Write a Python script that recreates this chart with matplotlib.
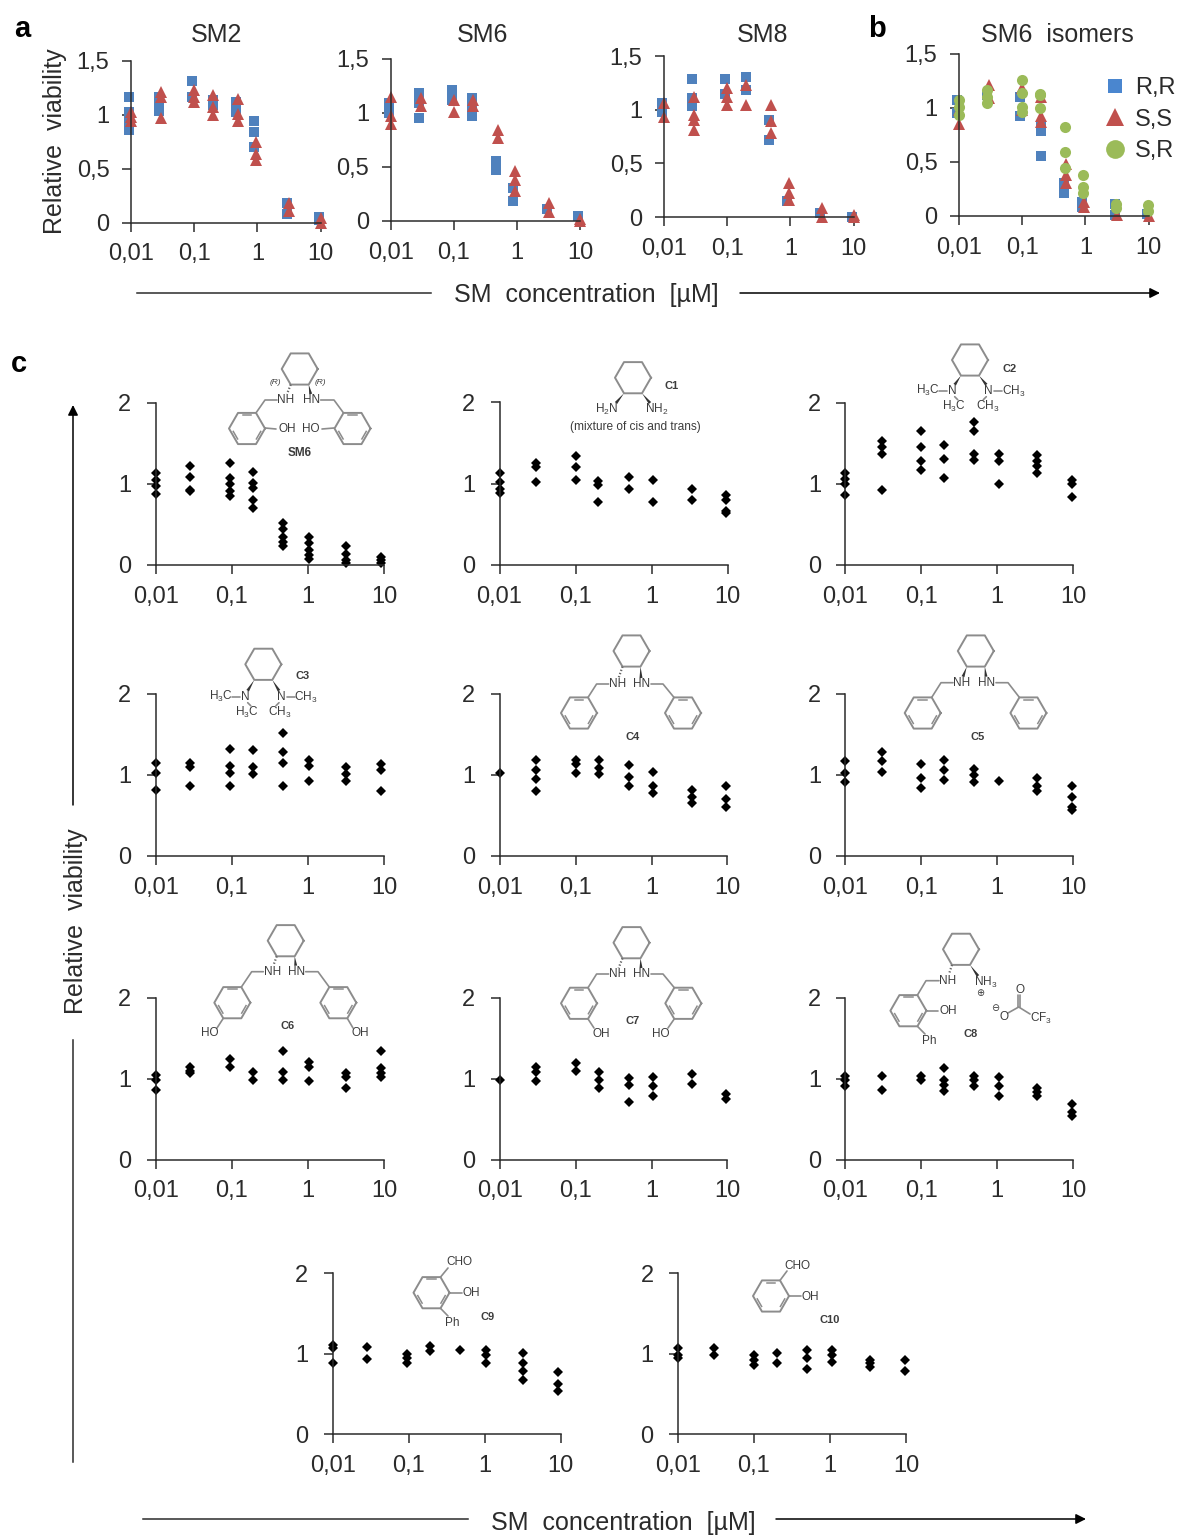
import numpy as np
import matplotlib
matplotlib.use("Agg")
import matplotlib.pyplot as plt
from matplotlib.lines import Line2D
from matplotlib.ticker import NullLocator

plt.rcParams["font.family"] = ["Liberation Sans", "DejaVu Sans"]
plt.rcParams["mathtext.default"] = "regular"

W, H = 1178, 1535
INK = "#2b2b2b"
GRAY = "#8c8c8c"
LAB = "#3c3c3c"
BLUE, RED, GREEN = "#4F81BD", "#C0504D", "#9BBB59"

xticks = [0.01, 0.1, 1, 10]
xticklabels = ["0,01", "0,1", "1", "10"]

# concentrations (slightly different as plotted in the source panels)
conc_red = [0.01, 0.03, 0.1, 0.2, 0.5, 0.95, 3.2, 10]
conc_blue = [0.0093, 0.028, 0.093, 0.195, 0.46, 0.88, 2.97, 9.3]
conc_green = [0.01, 0.028, 0.1, 0.19, 0.47, 0.9, 3.0, 9.7]
conc_a = [0.01, 0.028, 0.095, 0.19, 0.47, 1.03, 3.2, 9.1]
conc_b = [0.01, 0.03, 0.1, 0.2, 0.5, 1.05, 3.4, 9.6]

sm2_blue = [[1.17, 1.03, 0.95, 0.86], [1.17, 1.09, 1.04], [1.31, 1.17], [1.14, 1.09], [1.12, 1.03],
            [0.94, 0.84, 0.70], [0.18, 0.08], [0.05, 0.02]]
sm2_red = [[1.03, 0.98, 0.94], [1.21, 1.17, 0.97], [1.23, 1.17, 1.12], [1.18, 1.07, 1.0], [1.15, 1.01, 0.94],
           [0.75, 0.64, 0.58], [0.18, 0.11], [0.04, 0.0]]
sm6_blue = [[1.09, 1.0], [1.18, 1.09, 0.95], [1.21, 1.12], [1.14, 1.06, 0.97], [0.55, 0.47],
            [0.30, 0.18], [0.11], [0.04]]
sm6_red = [[1.15, 0.97, 0.90], [1.14, 1.06], [1.12, 1.01], [1.12, 1.06], [0.84, 0.77],
           [0.46, 0.38, 0.28], [0.16, 0.08], [0.02, 0.0]]
sm8_blue = [[1.06, 0.98], [1.29, 1.11, 1.03], [1.29, 1.15], [1.30, 1.18], [0.90, 0.72],
            [0.15], [0.04], [0.0]]
sm8_red = [[1.06, 0.93], [1.12, 0.95, 0.90, 0.81], [1.20, 1.12, 1.04], [1.23, 1.04], [1.04, 0.89, 0.78],
           [0.32, 0.22, 0.16], [0.08, 0.0], [0.02, 0.0]]
iso_rr = [[1.07, 0.95], [1.12], [1.10, 0.92], [0.84, 0.78, 0.55], [0.30, 0.21],
          [0.13, 0.08], [0.11, 0.01], [0.02]]
iso_ss = [[0.98, 0.85], [1.21, 1.09], [1.18, 0.98], [1.10, 0.92, 0.87], [0.48, 0.38, 0.30],
          [0.13, 0.08], [0.01], [0.0]]
iso_sr = [[1.07, 1.01, 0.93], [1.16, 1.10, 1.04], [1.26, 1.14, 1.01, 0.96], [1.13, 1.12, 1.0], [0.82, 0.59, 0.44],
          [0.38, 0.27, 0.21], [0.11, 0.07], [0.10, 0.04]]

c_sm6 = [[1.14, 1.05, 0.97, 0.88], [1.22, 1.09, 0.93, 0.91], [1.26, 1.07, 1.0, 0.91, 0.85], [1.15, 1.01, 0.95, 0.80, 0.70],
         [0.52, 0.45, 0.35, 0.29, 0.24], [0.35, 0.27, 0.19, 0.12, 0.08], [0.23, 0.14, 0.06, 0.03], [0.10, 0.06, 0.03]]
c1 = [[1.13, 1.02, 0.94, 0.88], [1.25, 1.21, 1.02], [1.34, 1.21, 1.04], [1.03, 0.99, 0.78], [1.08, 0.94],
      [1.05, 0.78], [0.94, 0.80], [0.86, 0.80, 0.67, 0.64]]
c2 = [[1.13, 1.06, 1.0, 0.87], [1.53, 1.46, 1.37, 0.92], [1.65, 1.46, 1.29, 1.17], [1.48, 1.31, 1.08], [1.76, 1.65, 1.37, 1.30],
      [1.37, 1.28, 1.0], [1.36, 1.28, 1.22, 1.13], [1.05, 1.0, 0.84]]
c3 = [[1.15, 1.03, 0.82], [1.15, 1.10, 0.87], [1.32, 1.11, 1.03, 0.87], [1.31, 1.10, 1.01], [1.52, 1.28, 1.15, 0.87],
      [1.18, 1.11, 0.93], [1.10, 1.01, 0.93], [1.13, 1.06, 0.80]]
c4 = [[1.02], [1.18, 1.06, 0.95, 0.80], [1.18, 1.13, 1.03], [1.18, 1.09, 1.01], [1.12, 0.98, 0.87],
      [1.04, 0.87, 0.78], [0.82, 0.73, 0.66], [0.86, 0.70, 0.60]]
c5 = [[1.17, 1.02, 0.91], [1.28, 1.17, 1.04], [1.13, 0.96, 0.84], [1.18, 1.06, 0.94], [1.07, 1.0, 0.91],
      [0.92], [0.96, 0.86, 0.80], [0.87, 0.73, 0.61, 0.57]]
c6 = [[1.05, 0.99, 0.86], [1.15, 1.10, 1.07], [1.25, 1.14], [1.08, 0.99], [1.34, 1.08, 0.99],
      [1.21, 1.14, 0.97], [1.07, 1.02, 0.89], [1.34, 1.13, 1.07, 1.02]]
c7 = [[0.99], [1.15, 1.08, 0.97], [1.19, 1.09], [1.08, 0.98, 0.88], [1.01, 0.92, 0.71],
      [1.02, 0.91, 0.79], [1.06, 0.94], [0.81, 0.75]]
c8 = [[1.04, 0.98, 0.91], [1.03, 0.86], [1.04, 0.98], [1.13, 0.99, 0.92, 0.85], [1.04, 0.99, 0.91],
      [1.02, 0.91, 0.79], [0.89, 0.83, 0.79], [0.69, 0.59, 0.54]]
c9 = [[1.11, 1.07, 0.89], [1.09, 0.93], [1.0, 0.95, 0.89], [1.10, 1.03], [1.05],
      [1.05, 0.98, 0.88], [1.01, 0.88, 0.79, 0.68], [0.78, 0.63, 0.54]]
c10 = [[1.07, 0.99, 0.95], [1.07, 0.99], [0.99, 0.92, 0.86], [1.01, 0.88], [1.05, 0.95, 0.81],
       [1.05, 0.98, 0.90], [0.92, 0.88, 0.83], [0.92, 0.79]]


def make_axes(x0, x1, ytop, ybot, ymax, yticks, ylabels, pad):
    ax = fig.add_axes([x0 / W, 1 - ybot / H, (x1 - x0) / W, (ybot - ytop) / H])
    ax.patch.set_alpha(0)
    ax.set_xscale("log")
    ax.set_xlim(0.01, 10)
    ax.set_ylim(0, ymax)
    ax.set_xticks(xticks)
    ax.set_xticklabels(xticklabels)
    ax.xaxis.set_minor_locator(NullLocator())
    ax.set_yticks(yticks)
    ax.set_yticklabels(ylabels)
    for s in ["top", "right"]:
        ax.spines[s].set_visible(False)
    for s in ["left", "bottom"]:
        ax.spines[s].set_linewidth(1.1)
        ax.spines[s].set_color(INK)
    ax.tick_params(axis="x", length=6.5, width=1.1, color=INK, labelsize=17, pad=8.5, labelcolor=INK)
    ax.tick_params(axis="y", length=6.5, width=1.1, color=INK, labelsize=17, pad=pad, labelcolor=INK)
    return ax


def draw(ax, conc, vals, marker, color, ms):
    xs, ys = [], []
    for c, group in zip(conc, vals):
        for v in group:
            xs.append(c)
            ys.append(v)
    ax.plot(xs, ys, ls="none", marker=marker, color=color, ms=ms, mew=0, clip_on=False)


def top_axes(x0, x1, ytop, ybot):
    return make_axes(x0, x1, ytop, ybot, 1.5, [0, 0.5, 1, 1.5], ["0", "0,5", "1", "1,5"], 9)


def c_axes(x0, x1, ytop, ybot, conc, vals):
    ax = make_axes(x0, x1, ytop, ybot, 2, [0, 1, 2], ["0", "1", "2"], 11)
    draw(ax, conc, vals, "D", "black", 5.2)
    return ax


fig = plt.figure(figsize=(W / 100, H / 100), dpi=100, facecolor="white")

# pixel overlay for the chemistry drawings, arrows and loose text
ov = fig.add_axes([0, 0, 1, 1], zorder=5)
ov.set_xlim(0, W)
ov.set_ylim(H, 0)
ov.axis("off")
ov.patch.set_alpha(0)


def txt(x, y, s, size=8.5, color=LAB, weight="normal", style="normal", rot=0):
    ov.text(x, y, s, fontsize=size, color=color, ha="center", va="center",
            fontweight=weight, fontstyle=style, rotation=rot)


def bond(*pts):
    xs = [p[0] for p in pts]
    ys = [p[1] for p in pts]
    ov.plot(xs, ys, color=GRAY, lw=1.2, solid_capstyle="round")


def hexagon(cx, cy, r=18, arom=False):
    ang = np.deg2rad(np.arange(0, 361, 60))
    ov.plot(cx + r * np.cos(ang), cy + r * np.sin(ang), color=GRAY, lw=1.4)
    if arom:
        # inner lines of the aromatic ring
        for i in [0, 2, 4]:
            a = ang[i] + np.deg2rad(12)
            b = ang[i + 1] - np.deg2rad(12)
            ov.plot([cx + 0.78 * r * np.cos(a), cx + 0.78 * r * np.cos(b)],
                    [cy + 0.78 * r * np.sin(a), cy + 0.78 * r * np.sin(b)], color=GRAY, lw=1.1)


def wedge(x1, y1, x2, y2):
    dx, dy = x2 - x1, y2 - y1
    n = np.hypot(dx, dy)
    nx, ny = -dy / n * 1.5, dx / n * 1.5
    ov.fill([x1, x2 + nx, x2 - nx], [y1, y2 + ny, y2 - ny], color="#333333", lw=0)


def hashed(x1, y1, x2, y2):
    ov.plot([x1, x2], [y1, y2], color="#666666", lw=1.6, ls=(0, (0.6, 0.9)))


def hex_pt(cx, cy, deg, r=18):
    return cx + r * np.cos(np.deg2rad(deg)), cy + r * np.sin(np.deg2rad(deg))


def diamine(cx, cy, xl, xr, yn, xcl, xcr, rl, rr, ry, left_hash=True):
    """cyclohexane with two benzylamine arms, everything in figure pixels"""
    hexagon(cx, cy)
    bl = hex_pt(cx, cy, 120)
    br = hex_pt(cx, cy, 60)
    if left_hash:
        hashed(bl[0], bl[1], xl + 1, yn - 6)
    else:
        wedge(bl[0], bl[1], xl + 1, yn - 6)
    wedge(br[0], br[1], xr - 1, yn - 6)
    txt(xl, yn, "NH")
    txt(xr, yn, "HN")
    bond((xl - 9, yn), (xcl, yn), hex_pt(rl, ry, -60))
    hexagon(rl, ry, arom=True)
    bond((xr + 9, yn), (xcr, yn), hex_pt(rr, ry, -120))
    hexagon(rr, ry, arom=True)


def dimethyl(cx, cy, nl, nr, ny, label, lx, ly):
    hexagon(cx, cy)
    wedge(*hex_pt(cx, cy, 120), nl + 2, ny - 6)
    wedge(*hex_pt(cx, cy, 60), nr - 2, ny - 6)
    txt(nl, ny, "N")
    txt(nr, ny, "N")
    txt(nl - 25, ny, "H$_3$C")
    txt(nr + 25, ny + 1, "CH$_3$")
    bond((nl - 14, ny), (nl - 6, ny))
    bond((nr + 6, ny), (nr + 14, ny))
    bond((nl + 2, ny + 6), (nl + 5, ny + 9))
    bond((nr - 2, ny + 6), (nr - 5, ny + 9))
    txt(nl + 1, ny + 16, "H$_3$C")
    txt(nr - 1, ny + 16, "CH$_3$")
    txt(lx, ly, label, weight="bold", size=8)


# panel a
ax = top_axes(131, 320.7, 61, 222.5)
draw(ax, conc_blue, sm2_blue, "s", BLUE, 6.8)
draw(ax, conc_red, sm2_red, "^", RED, 9)
ax = top_axes(390.7, 580, 59, 220.7)
draw(ax, conc_blue, sm6_blue, "s", BLUE, 6.8)
draw(ax, conc_red, sm6_red, "^", RED, 9)
ax = top_axes(664, 853.6, 56, 217)
draw(ax, conc_blue, sm8_blue, "s", BLUE, 6.8)
draw(ax, conc_red, sm8_red, "^", RED, 9)

# panel b
ax = top_axes(959, 1148.7, 53.7, 215.7)
draw(ax, conc_blue, iso_rr, "s", BLUE, 6.8)
draw(ax, conc_red, iso_ss, "^", RED, 9)
draw(ax, conc_green, iso_sr, "o", GREEN, 8)
handles = [Line2D([], [], ls="none", marker="s", color="#4A86CF", ms=10.5, mew=0),
           Line2D([], [], ls="none", marker="^", color=RED, ms=13, mew=0),
           Line2D([], [], ls="none", marker="o", color=GREEN, ms=13.5, mew=0)]
fig.legend(handles, ["R,R", "S,S", "S,R"], loc="upper left", bbox_to_anchor=(1103 / W, 1 - 77 / H),
           frameon=False, fontsize=17, labelspacing=0.41, handlelength=1, handletextpad=0.35,
           borderpad=0, borderaxespad=0, labelcolor=INK)

# panel c
c_axes(155.7, 384, 403, 565, conc_a, c_sm6)
c_axes(499.5, 727.5, 402.5, 565, conc_b, c1)
c_axes(845.3, 1073, 403, 565, conc_b, c2)
c_axes(155.7, 384, 694, 856, conc_a, c3)
c_axes(499.8, 727.5, 694, 856, conc_b, c4)
c_axes(845.3, 1073, 694, 856, conc_b, c5)
c_axes(155.7, 384, 998, 1159.5, conc_a, c6)
c_axes(499.8, 727.5, 998, 1159.5, conc_b, c7)
c_axes(845.3, 1073, 998, 1159.5, conc_b, c8)
c_axes(332.6, 560.7, 1273.3, 1434.3, conc_a, c9)
c_axes(678, 906, 1273.3, 1434.3, conc_b, c10)

# titles and letters
for x, y, s in [(217, 35.5, "SM2"), (482, 35.5, "SM6"), (763, 35.5, "SM8"), (1057, 35.5, "SM6  isomers")]:
    txt(x, y, s, size=18, color=INK)
txt(22, 29, "a", size=21, color="black", weight="bold")
txt(877, 29, "b", size=21, color="black", weight="bold")
txt(19, 364, "c", size=21, color="black", weight="bold")
txt(55, 141, "Relative  viability", size=18, color=INK, rot=90)
txt(76, 921, "Relative  viability", size=18, color=INK, rot=90)
txt(586, 295, "SM  concentration  [µM]", size=18, color=INK)
txt(623, 1523, "SM  concentration  [µM]", size=18, color=INK)

# arrow lines
ov.plot([137, 431], [293, 293], color=INK, lw=1.1)
ov.plot([143, 468], [1519, 1519], color=INK, lw=1.1)
ov.plot([73, 73], [1040, 1462], color=INK, lw=1.1)
for p0, p1 in [((740, 293), (1160, 293)), ((776, 1519), (1086, 1519)), ((73, 805), (73, 405))]:
    ov.annotate("", xy=p1, xytext=p0, arrowprops=dict(arrowstyle="-|>", color="black", lw=1.1,
                                                      shrinkA=0, shrinkB=0, mutation_scale=15))

# SM6 structure
diamine(299.7, 369, 286, 311.7, 400, 265, 334, 247, 352.5, 428.5)
bond((265, 428), (276, 429))
bond((334, 428), (322, 429))
txt(287, 429.5, "OH")
txt(311, 429.5, "HO")
txt(300, 452.5, "SM6", weight="bold", size=8.5)
txt(275, 382, "(R)", size=6, style="italic")
txt(320, 382, "(R)", size=6, style="italic")

# C1
hexagon(633, 377.7)
wedge(*hex_pt(633, 377.7, 120), 616, 403)
wedge(*hex_pt(633, 377.7, 60), 650, 403)
txt(606.7, 409.5, "H$_2$N")
txt(657, 409.5, "NH$_2$")
txt(671.7, 386, "C1", weight="bold", size=8)
txt(635, 427, "(mixture of cis and trans)", size=8.6)

# C2, C3
dimethyl(970, 360, 952.7, 988.3, 390.7, "C2", 1010, 369)
dimethyl(263.3, 664.3, 245.7, 281, 696.7, "C3", 303, 675.7)

# C4, C5, C6, C7
diamine(631.5, 651, 617.6, 642, 684, 596.6, 663, 579, 683, 713)
txt(632.8, 736.7, "C4", weight="bold", size=8)
diamine(975.8, 651, 962, 987, 682.7, 941, 1008, 922.7, 1028.4, 713, left_hash=False)
txt(978, 736.7, "C5", weight="bold", size=8)
diamine(285.7, 940.7, 272.3, 296.7, 971.7, 251.7, 318, 232.3, 338.3, 1002.7)
bond(hex_pt(232.3, 1002.7, 120), (217, 1028))
bond(hex_pt(338.3, 1002.7, 60), (353, 1028))
txt(209.3, 1032.7, "HO")
txt(360, 1032.7, "OH")
txt(287.7, 1025.7, "C6", weight="bold", size=8)
diamine(631.5, 942.7, 617.6, 642, 974, 596.6, 663, 579, 683.3, 1003.3)
bond(hex_pt(579, 1003.3, 60), (594, 1028))
bond(hex_pt(683.3, 1003.3, 120), (668, 1028))
txt(600.8, 1034.3, "OH")
txt(661, 1034.3, "HO")
txt(632.3, 1021, "C7", weight="bold", size=8)

# C8
hexagon(961, 949.3)
hashed(*hex_pt(961, 949.3, 120), 949, 974)
wedge(*hex_pt(961, 949.3, 60), 978, 976)
txt(948, 980.7, "NH")
txt(986, 982.3, "NH$_3$")
txt(980, 992.7, "⊕", size=7)
bond((939, 980.7), (926, 980.7), hex_pt(908.4, 1010.7, -60))
hexagon(908.4, 1010.7, arom=True)
bond(hex_pt(908.4, 1010.7, 0), (938, 1010.7))
txt(948, 1010.7, "OH")
bond(hex_pt(908.4, 1010.7, 60), (925, 1034))
txt(929, 1041, "Ph")
txt(971, 1034.3, "C8", weight="bold", size=8)
txt(994.7, 1008.3, "⊖", size=7)
txt(1004, 1017.3, "O")
bond((1008, 1013), (1018.7, 1007), (1030, 1014))
bond((1017.5, 1007), (1017.5, 995))
bond((1020, 1007), (1020, 995))
txt(1019.6, 990, "O")
txt(1040.6, 1018.3, "CF$_3$")

# C9, C10
hexagon(431.5, 1292.7, arom=True)
bond(hex_pt(431.5, 1292.7, -60), (448, 1268))
txt(458.9, 1262.3, "CHO")
bond(hex_pt(431.5, 1292.7, 0), (462, 1292.7))
txt(471.5, 1292.7, "OH")
bond(hex_pt(431.5, 1292.7, 60), (448, 1316))
txt(452.6, 1323.3, "Ph")
txt(487.5, 1316.7, "C9", weight="bold", size=8)
hexagon(771, 1296, arom=True)
bond(hex_pt(771, 1296, -60), (787, 1271))
txt(797.7, 1265.7, "CHO")
bond(hex_pt(771, 1296, 0), (801, 1296))
txt(810.3, 1296.7, "OH")
txt(830, 1320, "C10", weight="bold", size=8)

fig.savefig("out.png", dpi=100)
